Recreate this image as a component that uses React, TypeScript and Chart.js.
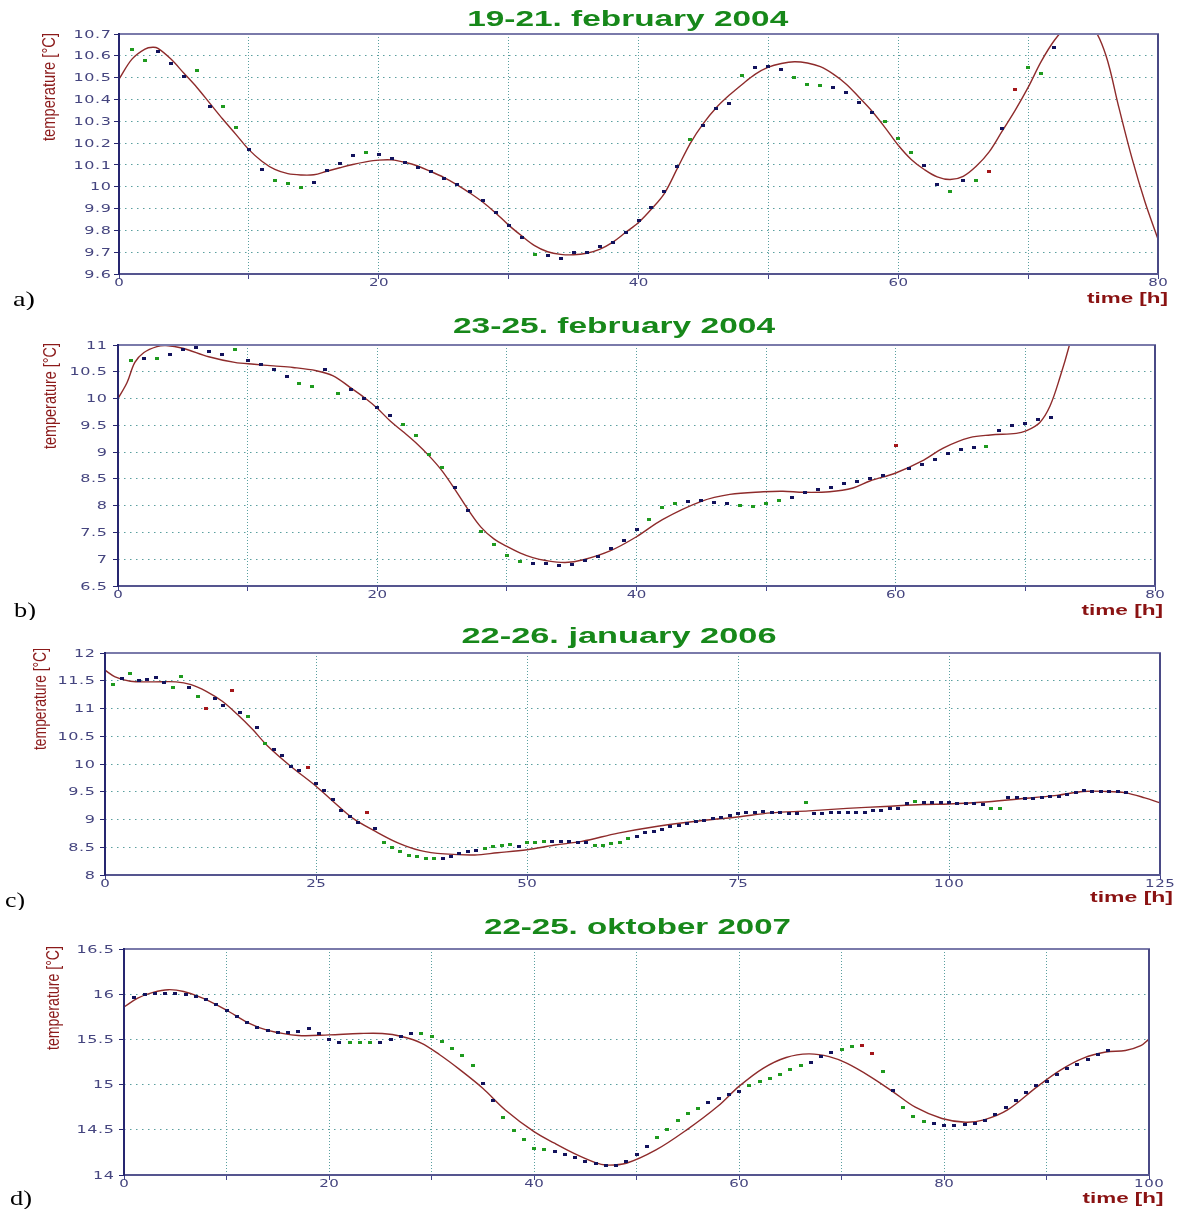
import React, { useEffect, useRef } from 'react';
import { Chart, registerables } from 'chart.js';
Chart.register(...registerables);

// ---------- colours ----------
const NAVY = '#12125c';
const GREEN = '#1f9a1f';
const RED = '#a3161a';
const FIT = '#8e2b2b';
const GRID = '#5a9f9f';
const TICK_TXT = '#45457f';

// ---------- panel a : 19-21. february 2004 ----------
const aTemps = [10.63,10.58,10.62,10.565,10.507,10.534,10.37,10.37,10.27,10.17,
  10.077,10.03,10.013,9.995,10.02,10.074,10.106,10.143,10.157,10.148,
  10.131,10.112,10.086,10.068,10.039,10.011,9.979,9.939,9.884,9.821,
  9.766,9.689,9.683,9.671,9.698,9.698,9.726,9.744,9.79,9.847,
  9.907,9.98,10.094,10.215,10.28,10.36,10.38,10.51,10.545,10.551,
  10.536,10.5,10.468,10.462,10.453,10.433,10.387,10.34,10.298,10.22,
  10.157,10.097,10.01,9.98,10.028,10.028,10.068,10.269,10.444,10.545,
  10.517,10.636];
const aKinds = 'ggnnngnggn' + 'ngggnnnngn' + 'nnnnnnnnnn' + 'ngnnnnnnnn' + 'nnngnnngnn' + 'ngggnnnngg' + 'gnngngrnrg' + 'gn';
const aFitT = [0,1,2,2.6,3,4,5,6,7,8,9,10,11,12,13,14,15,16,17,18,19,20,21,22,23,24,25,26,27,28,29,30,31,32,33,34,35,36,37,38,39,40,41,42,43,44,45,46,47,48,49,50,51,52,53,54,55,56,57,58,59,60,61,62,63,64,65,66,67,68,69,70,71,72,73,74,75,76,77,78,79,80];
const aFitV = [10.493,10.585,10.631,10.639,10.634,10.585,10.52,10.455,10.382,10.309,10.24,10.17,10.117,10.079,10.06,10.054,10.055,10.071,10.087,10.102,10.114,10.122,10.123,10.112,10.095,10.07,10.043,10.01,9.972,9.93,9.88,9.824,9.775,9.73,9.702,9.69,9.688,9.695,9.713,9.745,9.79,9.836,9.898,9.97,10.085,10.2,10.29,10.363,10.42,10.47,10.516,10.548,10.565,10.573,10.567,10.55,10.516,10.47,10.409,10.345,10.27,10.19,10.125,10.079,10.045,10.033,10.048,10.094,10.16,10.255,10.35,10.455,10.573,10.669,10.735,10.76,10.73,10.6,10.36,10.13,9.93,9.76];
const aXLabels = ['0','20','40','60','80'];
const aYLabels = ['9.6','9.7','9.8','9.9','10','10.1','10.2','10.3','10.4','10.5','10.6','10.7'];

// ---------- panel b : 23-25. february 2004 ----------
const bTemps = [10.71,10.74,10.75,10.83,10.925,10.96,10.88,10.83,10.925,10.71,
  10.64,10.54,10.42,10.29,10.22,10.54,10.09,10.17,10.0,9.825,
  9.675,9.52,9.31,8.955,8.71,8.34,7.91,7.51,7.27,7.07,
  6.95,6.92,6.92,6.88,6.91,6.98,7.06,7.2,7.35,7.55,
  7.74,7.96,8.04,8.08,8.09,8.06,8.04,7.995,7.98,8.04,
  8.09,8.16,8.24,8.295,8.34,8.41,8.46,8.51,8.565,9.125,
  8.69,8.76,8.86,8.97,9.045,9.09,9.11,9.41,9.49,9.54,
  9.61,9.65];
const bKinds = 'gngnnnnngn' + 'nnnggngnnn' + 'nggggnnggg' + 'gnnnnnnnnn' + 'gggnnnnggg' + 'gnnnnnnnnr' + 'nnnnnngnnn' + 'nn';
const bFitT = [0,0.7,1.3,2,3,3.7,5,7,9,10.5,12,13.5,15.3,16.6,17.9,19,20,21,22,23,24,25,26,27,28,29,30,31,32,33,34.5,35.9,38,40,42,45,47.2,49.8,51.3,52.9,54.9,56.7,58,60,62,63.7,65.7,67.3,69.3,70,71.1,71.9,72.7,73.4,74];
const bFitV = [10.0,10.3,10.675,10.86,10.97,10.99,10.94,10.78,10.675,10.64,10.61,10.58,10.52,10.425,10.21,10.02,9.82,9.58,9.38,9.17,8.93,8.65,8.3,7.93,7.6,7.38,7.24,7.12,7.03,6.975,6.94,6.99,7.16,7.42,7.74,8.08,8.21,8.26,8.27,8.25,8.26,8.33,8.46,8.61,8.83,9.08,9.27,9.32,9.35,9.39,9.55,9.86,10.42,11.0,11.6];
const bXLabels = ['0','20','40','60','80'];
const bYLabels = ['6.5','7','7.5','8','8.5','9','9.5','10','10.5','11'];

// ---------- panel c : 22-26. january 2006 ----------
const cTemps = [11.435,11.54,11.63,11.51,11.525,11.555,11.465,11.375,11.585,11.375,
  11.21,11.0,11.18,11.06,11.33,10.925,10.85,10.66,10.365,10.26,
  10.145,9.96,9.885,9.93,9.65,9.52,9.355,9.17,9.055,8.94,
  9.12,8.84,8.59,8.5,8.43,8.36,8.335,8.305,8.3,8.305,
  8.335,8.38,8.415,8.44,8.47,8.505,8.53,8.545,8.505,8.577,
  8.58,8.595,8.61,8.6,8.595,8.59,8.577,8.54,8.535,8.565,
  8.59,8.65,8.7,8.77,8.79,8.815,8.865,8.89,8.93,8.97,
  8.99,9.015,9.04,9.08,9.1,9.135,9.135,9.145,9.13,9.12,
  9.115,9.1,9.31,9.105,9.105,9.12,9.12,9.12,9.135,9.135,
  9.16,9.165,9.195,9.205,9.29,9.33,9.3,9.3,9.3,9.3,
  9.29,9.29,9.29,9.27,9.205,9.205,9.395,9.395,9.37,9.37,
  9.395,9.42,9.42,9.455,9.49,9.52,9.51,9.51,9.5,9.5,
  9.48];
const cKinds = 'gngnnnnggn' + 'grnnrngngn' + 'nnnrnnnnnn' + 'rngggggggn' + 'nnnnggggng' + 'ggnnnnnggg' + 'ggnnnnnnnn' + 'nnnnnnnnnn' + 'nngnnnnnnn' + 'nnnnngnnnn' + 'nnnnggnnnn' + 'nnnnnnnnnnn';
const cFitT = [0,1.2,3,5.7,8.4,10.2,12,13.9,15.7,17.5,19.3,22,25,27,29.3,32,34.7,37.4,40.2,43.8,46.5,50,53.3,56.5,60.8,65.3,69.8,74.9,78.9,83.4,87.9,92.4,96.9,100,103.7,108.2,112.8,115.9,118.6,120.9,123.2,125];
const cFitV = [11.69,11.57,11.49,11.48,11.48,11.43,11.31,11.13,10.89,10.62,10.32,9.96,9.6,9.33,9.03,8.79,8.58,8.44,8.38,8.36,8.4,8.455,8.54,8.605,8.755,8.875,8.965,9.045,9.12,9.155,9.2,9.235,9.27,9.28,9.31,9.37,9.435,9.505,9.505,9.48,9.39,9.3];
const cXLabels = ['0','25','50','75','100','125'];
const cYLabels = ['8','8.5','9','9.5','10','10.5','11','11.5','12'];

// ---------- panel d : 22-25. oktober 2007 ----------
const dTemps = [15.964,15.997,16.005,16.01,16.01,16.0,15.98,15.94,15.883,15.82,
  15.75,15.69,15.636,15.595,15.58,15.58,15.585,15.617,15.57,15.496,
  15.47,15.462,15.462,15.462,15.462,15.5,15.53,15.56,15.562,15.536,
  15.477,15.4,15.32,15.21,15.016,14.82,14.64,14.496,14.39,14.296,
  14.278,14.26,14.23,14.19,14.152,14.13,14.11,14.11,14.148,14.222,
  14.31,14.41,14.507,14.602,14.68,14.74,14.798,14.842,14.886,14.927,
  14.99,15.034,15.07,15.108,15.163,15.21,15.244,15.31,15.35,15.388,
  15.42,15.432,15.344,15.149,14.93,14.75,14.643,14.591,14.565,14.543,
  14.543,14.554,14.573,14.606,14.668,14.746,14.828,14.909,14.986,15.038,
  15.116,15.178,15.222,15.282,15.33,15.382];
const dKinds = 'nnnnnnnnnn' + 'nnnnnnnnnn' + 'ngggnnnngg' + 'ggggnngggg' + 'gnnnnnnnnn' + 'ngggggnnnn' + 'ggggggnnng' + 'grrgngggnn' + 'nnnnnnnnnn' + 'nnnnnn';
const dFitT = [0,1.34,2.84,4.33,5.82,7.68,9.93,12.17,14.04,17,20,23,25.2,27.1,29,30.8,32.7,35,37.2,40,42,43.9,46,47,49,51.9,54.9,57.9,60,62.35,64.6,66.8,68.8,70.5,72.8,75,77.2,79.8,82.1,83.9,86.2,89.1,91.4,93.6,95.8,97.7,99.2,100];
const dFitV = [15.858,15.957,16.02,16.05,16.03,15.957,15.828,15.68,15.6,15.543,15.55,15.565,15.565,15.532,15.459,15.33,15.171,14.96,14.72,14.48,14.352,14.24,14.137,14.11,14.13,14.277,14.499,14.757,14.98,15.18,15.3,15.34,15.31,15.237,15.089,14.923,14.75,14.625,14.584,14.61,14.72,14.978,15.163,15.293,15.36,15.377,15.43,15.503];
const dXLabels = ['0','20','40','60','80','100'];
const dYLabels = ['14','14.5','15','15.5','16','16.5'];

// ---------- layout ----------
type Box = { x: number; y: number; w: number };
type PanelCfg = {
  top: number; height: number;
  area: { l: number; r: number; t: number; b: number };
  temps: number[]; kinds: string; fitT: number[]; fitV: number[];
  xMax: number; xStep: number; yMin: number; yMax: number; yStep: number;
  xLabels: string[]; yLabels: string[]; yGap: number;
  title: string; titleBox: Box; timeBox: Box; yTitle: { cx: number; cy: number; len: number };
  letter: string; letterBox: Box;
};

const Y_W = 60;
const X_H = 24;

const PANELS: PanelCfg[] = [
  {
    top: 0, height: 310, area: { l: 119, r: 1158, t: 34, b: 274 },
    temps: aTemps, kinds: aKinds, fitT: aFitT, fitV: aFitV,
    xMax: 80, xStep: 10, yMin: 9.6, yMax: 10.7, yStep: 0.1,
    xLabels: aXLabels, yLabels: aYLabels, yGap: 8,
    title: '19-21. february 2004', titleBox: { x: 627.7, y: 26, w: 321 },
    timeBox: { x: 1168, y: 303, w: 81 }, yTitle: { cx: 50, cy: 87, len: 108 },
    letter: 'a)', letterBox: { x: 13, y: 306, w: 22 },
  },
  {
    top: 310, height: 310, area: { l: 118, r: 1155, t: 345, b: 586 },
    temps: bTemps, kinds: bKinds, fitT: bFitT, fitV: bFitV,
    xMax: 80, xStep: 10, yMin: 6.5, yMax: 11, yStep: 0.5,
    xLabels: bXLabels, yLabels: bYLabels, yGap: 11,
    title: '23-25. february 2004', titleBox: { x: 614, y: 332.7, w: 322 },
    timeBox: { x: 1163, y: 615, w: 81.6 }, yTitle: { cx: 51, cy: 396, len: 106 },
    letter: 'b)', letterBox: { x: 14, y: 617, w: 22 },
  },
  {
    top: 620, height: 290, area: { l: 105, r: 1160, t: 653, b: 875 },
    temps: cTemps, kinds: cKinds, fitT: cFitT, fitV: cFitV,
    xMax: 125, xStep: 25, yMin: 8, yMax: 12, yStep: 0.5,
    xLabels: cXLabels, yLabels: cYLabels, yGap: 10,
    title: '22-26. january 2006', titleBox: { x: 619, y: 642.7, w: 315 },
    timeBox: { x: 1173, y: 901.7, w: 83 }, yTitle: { cx: 41, cy: 699, len: 102 },
    letter: 'c)', letterBox: { x: 5, y: 907, w: 20 },
  },
  {
    top: 910, height: 299, area: { l: 124, r: 1149, t: 949, b: 1175 },
    temps: dTemps, kinds: dKinds, fitT: dFitT, fitV: dFitV,
    xMax: 100, xStep: 10, yMin: 14, yMax: 16.5, yStep: 0.5,
    xLabels: dXLabels, yLabels: dYLabels, yGap: 10,
    title: '22-25. oktober 2007', titleBox: { x: 637.5, y: 934, w: 307 },
    timeBox: { x: 1163.5, y: 1203.3, w: 81 }, yTitle: { cx: 54.5, cy: 998, len: 104 },
    letter: 'd)', letterBox: { x: 10, y: 1205, w: 22 },
  },
];

type TextOpts = {
  font: string; color: string; align?: 'left' | 'center' | 'right';
  width?: number; scaleX?: number; spacing?: number; rotate?: boolean; baseline?: CanvasTextBaseline;
};

function drawText(ctx: CanvasRenderingContext2D, text: string, x: number, y: number, o: TextOpts) {
  ctx.save();
  ctx.font = o.font;
  ctx.fillStyle = o.color;
  ctx.textAlign = 'left';
  ctx.textBaseline = o.baseline || 'alphabetic';
  const sp = o.spacing || 0;
  try { (ctx as any).letterSpacing = sp + 'px'; } catch (e) { /* ignore */ }
  const w = Math.max(1, ctx.measureText(text).width - sp);
  const sx = o.width ? o.width / w : (o.scaleX || 1);
  ctx.translate(x, y);
  if (o.rotate) ctx.rotate(-Math.PI / 2);
  ctx.scale(sx, 1);
  const ox = o.align === 'center' ? -w / 2 : o.align === 'right' ? -w : 0;
  ctx.fillText(text, ox, 0);
  ctx.restore();
}

function seg(ctx: CanvasRenderingContext2D, x1: number, y1: number, x2: number, y2: number, color: string, w: number) {
  ctx.save();
  ctx.strokeStyle = color;
  ctx.lineWidth = w;
  ctx.setLineDash([]);
  ctx.beginPath();
  ctx.moveTo(x1, y1);
  ctx.lineTo(x2, y2);
  ctx.stroke();
  ctx.restore();
}

function marker(color: string) {
  const c = document.createElement('canvas');
  c.width = 4; c.height = 3;
  const g = c.getContext('2d')!;
  g.fillStyle = color;
  g.fillRect(0, 0, 4, 3);
  return c;
}

const TICK_FONT = '10px "DejaVu Sans", Verdana, sans-serif';

function decor(p: PanelCfg) {
  return {
    id: 'decor',
    afterDraw(chart: any) {
      const ctx: CanvasRenderingContext2D = chart.ctx;
      const { left, right, top, bottom } = chart.chartArea;
      const xs = chart.scales.x, ys = chart.scales.y;
      const oy = p.top;
      // frame
      seg(ctx, left - 1, top, right + 1, top, '#7a7aaa', 2);
      seg(ctx, right, top, right, bottom, '#4a4a86', 2);
      seg(ctx, left - 1, bottom, right + 1, bottom, '#55558f', 2);
      seg(ctx, left, top - 1, left, bottom + 1, '#262670', 2);
      // tick labels
      p.xLabels.forEach((s) => {
        drawText(ctx, s, xs.getPixelForValue(parseFloat(s)), bottom + 12, {
          font: TICK_FONT, color: TICK_TXT, align: 'center', scaleX: 1.5, spacing: 0.4,
        });
      });
      p.yLabels.forEach((s) => {
        drawText(ctx, s, left - p.yGap, ys.getPixelForValue(parseFloat(s)) + 3.6, {
          font: TICK_FONT, color: TICK_TXT, align: 'right', scaleX: 1.6, spacing: 0.4,
        });
      });
      // title
      drawText(ctx, p.title, p.titleBox.x, p.titleBox.y - oy, {
        font: 'bold 22px "Liberation Sans", Arial, sans-serif', color: '#17881a', align: 'center', width: p.titleBox.w,
      });
      // x-axis title
      drawText(ctx, 'time [h]', p.timeBox.x, p.timeBox.y - oy, {
        font: 'bold 14px "Liberation Sans", Arial, sans-serif', color: '#8a1212', align: 'right', width: p.timeBox.w,
      });
      // y-axis title
      drawText(ctx, 'temperature [°C]', p.yTitle.cx, p.yTitle.cy - oy, {
        font: '18px "Liberation Sans Narrow", "Liberation Sans", Arial, sans-serif', color: '#8b1a1a', align: 'center',
        width: p.yTitle.len, rotate: true, baseline: 'middle',
      });
      // panel letter
      drawText(ctx, p.letter, p.letterBox.x, p.letterBox.y - oy, {
        font: '22px "Liberation Serif", "Times New Roman", serif', color: '#000000', align: 'left', width: p.letterBox.w,
      });
    },
  };
}

function buildConfig(p: PanelCfg): any {
  const mk = { n: marker(NAVY), g: marker(GREEN), r: marker(RED) };
  const pick = (k: string) => p.temps
    .map((v, i) => ({ x: i + 1, y: v, k: p.kinds[i] }))
    .filter((d) => d.k === k)
    .map((d) => ({ x: d.x, y: d.y }));
  const pointDs = (k: 'n' | 'g' | 'r') => ({
    type: 'scatter',
    data: pick(k),
    pointStyle: mk[k],
    pointRadius: 2,
    pointHoverRadius: 2,
    showLine: false,
  });
  const fit = {
    type: 'line',
    data: p.fitT.map((t, i) => ({ x: t, y: p.fitV[i] })),
    borderColor: FIT,
    borderWidth: 1.4,
    pointRadius: 0,
    fill: false,
    tension: 0.35,
    cubicInterpolationMode: 'default',
  };
  const pad = {
    left: p.area.l - Y_W,
    right: 1178 - p.area.r,
    top: p.area.t - p.top,
    bottom: p.top + p.height - p.area.b - X_H,
  };
  return {
    type: 'scatter',
    data: { datasets: [pointDs('n'), pointDs('g'), pointDs('r'), fit] },
    options: {
      animation: false,
      responsive: false,
      maintainAspectRatio: false,
      devicePixelRatio: 1,
      events: [],
      layout: { padding: pad },
      plugins: { legend: { display: false }, tooltip: { enabled: false }, title: { display: false } },
      scales: {
        x: {
          type: 'linear', min: 0, max: p.xMax,
          ticks: { stepSize: p.xStep, display: false, autoSkip: false },
          grid: { color: GRID, lineWidth: 1, drawTicks: true, tickLength: 5, tickColor: '#44448a', tickWidth: 1, tickBorderDash: [] },
          border: { display: false, dash: [1, 2] },
          afterFit: (s: any) => { s.height = X_H; },
        },
        y: {
          type: 'linear', min: p.yMin, max: p.yMax,
          ticks: { stepSize: p.yStep, display: false, autoSkip: false },
          grid: { color: GRID, lineWidth: 1, drawTicks: true, tickLength: 5, tickColor: '#262670', tickWidth: 1, tickBorderDash: [] },
          border: { display: false, dash: [1.5, 4.5] },
          afterFit: (s: any) => { s.width = Y_W; },
        },
      },
    },
    plugins: [decor(p)],
  };
}

function Panel({ p }: { p: PanelCfg }) {
  const ref = useRef<HTMLCanvasElement>(null);
  useEffect(() => {
    const canvas = ref.current;
    if (!canvas) return;
    const chart = new Chart(canvas, buildConfig(p));
    return () => chart.destroy();
  }, [p]);
  return (
    <canvas
      ref={ref}
      width={1178}
      height={p.height}
      style={{ position: 'absolute', left: 0, top: p.top, width: 1178, height: p.height, display: 'block' }}
    />
  );
}

export default function App() {
  return (
    <div style={{ position: 'absolute', left: 0, top: 0, width: 1178, height: 1209, background: '#ffffff', overflow: 'hidden' }}>
      {PANELS.map((p, i) => <Panel key={i} p={p} />)}
    </div>
  );
}
